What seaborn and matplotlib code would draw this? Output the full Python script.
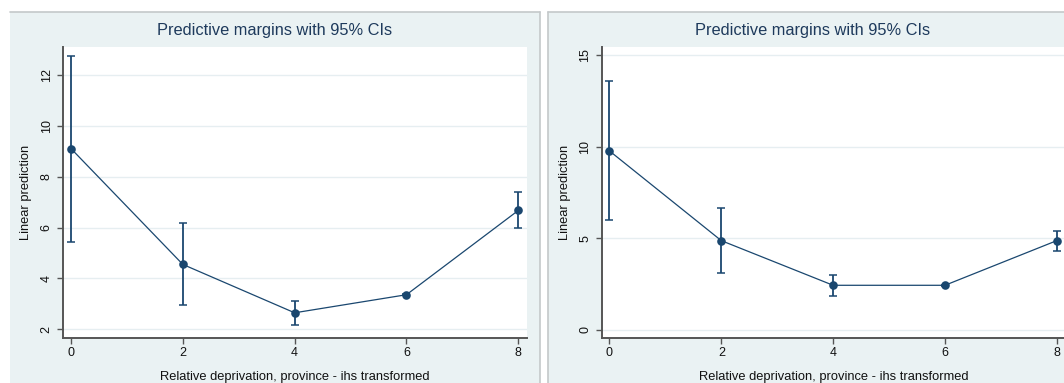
import matplotlib
matplotlib.use("Agg")
import matplotlib.pyplot as plt
from matplotlib.patches import Rectangle
from matplotlib.lines import Line2D
import numpy as np
import pandas as pd
import seaborn as sns

# Relative deprivation values (x) shared by both panels
deprivation = [0, 2, 4, 6, 8]

# Panel 1: predictive margins with 95% confidence limits
margin_a = [9.10, 4.55, 2.65, 3.36, 6.67]
lower_a = [5.45, 2.96, 2.18, 3.33, 6.00]
upper_a = [12.73, 6.16, 3.10, 3.39, 7.39]

# Panel 2: predictive margins with 95% confidence limits
margin_b = [9.77, 4.87, 2.43, 2.43, 4.87]
lower_b = [5.98, 3.11, 1.85, 2.39, 4.33]
upper_b = [13.60, 6.66, 3.00, 2.47, 5.40]

yticks_a = [2, 4, 6, 8, 10, 12]
yticks_b = [0, 5, 10, 15]
xticks = [0, 2, 4, 6, 8]

title = "Predictive margins with 95% CIs"
xlabel = "Relative deprivation, province - ihs transformed"
ylabel = "Linear prediction"

sns.set_theme(style="white")
plt.rcParams["font.family"] = ["Liberation Sans", "DejaVu Sans"]

NAVY = "#1A476F"
REGION = "#EAF2F3"
GRID = "#E6EEF1"
AXIS = "#555555"
BORDER = "#C4C8CA"

W, H = 1064, 383
fig = plt.figure(figsize=(W / 100, H / 100), dpi=100, facecolor="white")


def px_box(x0, y0, x1, y1):
    """Convert a pixel box (top-left origin) to figure fraction [l, b, w, h]."""
    return [x0 / W, 1 - y1 / H, (x1 - x0) / W, (y1 - y0) / H]


def fx(px):
    return px / W


def fy(py):
    return 1 - py / H


# Graph regions (light bluish background), kept behind the axes
for x0, x1 in [(10, 540), (548, 1078)]:
    l, b, w, h = px_box(x0, 12, x1, 390)
    fig.patches.append(Rectangle((l, b), w, h, transform=fig.transFigure,
                                 facecolor=REGION, edgecolor="none",
                                 zorder=-5))

# Thin borders around the graph regions
borders = [
    ((10, 540), (12, 12)),    # left region top
    ((540, 540), (12, 390)),  # left region right side
    ((548, 1078), (12, 12)),  # right region top
    ((548, 548), (12, 390)),  # right region left side
]
for (xa, xb), (ya, yb) in borders:
    fig.lines.append(Line2D([fx(xa), fx(xb)], [fy(ya), fy(yb)],
                            transform=fig.transFigure, color=BORDER,
                            linewidth=1.2, zorder=-4))


def draw_panel(ax, y, lo, hi, yticks, ylim, title_x):
    df = pd.DataFrame({"x": deprivation, "y": y})
    y = np.asarray(y)
    err = [y - np.asarray(lo), np.asarray(hi) - y]
    ax.errorbar(deprivation, y, yerr=err, fmt="none", ecolor=NAVY,
                elinewidth=1.3, capsize=3.0, capthick=1.1, zorder=2)
    sns.lineplot(data=df, x="x", y="y", ax=ax, color=NAVY, linewidth=0.9,
                 marker="o", markersize=6.2, markeredgewidth=0,
                 markerfacecolor=NAVY, zorder=5)
    ax.set_facecolor("white")
    ax.set_xlim(-0.143, 8.156)
    ax.set_ylim(*ylim)
    ax.set_xticks(xticks)
    ax.set_yticks(yticks)
    ax.set_xticklabels([str(v) for v in xticks], fontsize=9, color="#111111")
    ax.set_yticklabels([str(v) for v in yticks], fontsize=9, color="#111111",
                       rotation=90, va="center")
    ax.yaxis.grid(True, color=GRID, linewidth=1.0)
    ax.xaxis.grid(False)
    ax.set_axisbelow(True)
    for side in ["top", "right"]:
        ax.spines[side].set_visible(False)
    for side in ["left", "bottom"]:
        ax.spines[side].set_color(AXIS)
        ax.spines[side].set_linewidth(1.4)
    ax.tick_params(axis="both", which="both", direction="out", length=4.5,
                   width=1.0, color=AXIS, left=True, bottom=True)
    ax.tick_params(axis="x", pad=2)
    ax.tick_params(axis="y", pad=3)
    ax.set_xlabel(xlabel, fontsize=9.3, color="#111111")
    ax.set_ylabel(ylabel, fontsize=9.3, color="#111111")
    ax.xaxis.set_label_coords(0.5, -0.113)
    ax.yaxis.set_label_coords(-0.066, 0.5)
    fig.text(title_x / W, 1 - 31 / H, title, ha="center", va="center",
             fontsize=11.8, color="#1E3A5C")


ax1 = fig.add_axes(px_box(63, 47, 527, 338))
draw_panel(ax1, margin_a, lower_a, upper_a, yticks_a, (1.66, 13.09), 275)

ax2 = fig.add_axes(px_box(601.5, 47, 1065.5, 338))
draw_panel(ax2, margin_b, lower_b, upper_b, yticks_b, (-0.45, 15.45), 813)

fig.savefig("out.png", dpi=100, facecolor="white")
